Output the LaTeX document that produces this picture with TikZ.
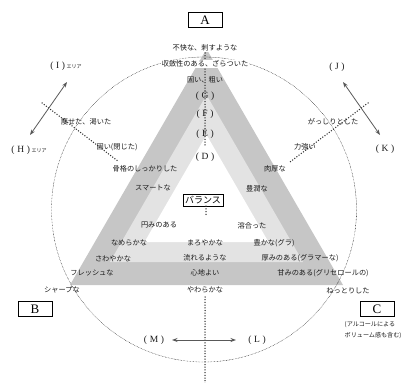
\documentclass[tikz,border=0pt]{standalone}
\usepackage{fontspec}
\setmainfont{Liberation Serif}
\newfontfamily\jp{Noto Sans CJK JP}
\usetikzlibrary{arrows.meta}
\definecolor{darkband}{HTML}{C6C6C6}
\definecolor{lightband}{HTML}{E3E3E3}
\definecolor{ink}{HTML}{1A1A1A}
\begin{document}
\begin{tikzpicture}[x=1pt,y=-1pt,
  jt/.style={font=\jp\fontsize{7.2}{8}\selectfont, inner sep=0.5pt, text=ink},
  jtw/.style={jt, fill=white},
  jsmall/.style={font=\jp\fontsize{6.1}{7.5}\selectfont, inner sep=0.5pt, text=ink, anchor=west},
  lbl/.style={font=\fontsize{9.5}{10}\selectfont, inner sep=0.5pt, text=ink},
  letterbox/.style={draw, line width=0.6pt, minimum width=34pt, minimum height=15pt, inner sep=0pt, font=\fontsize{13}{13}\selectfont},
  balbox/.style={draw, line width=0.7pt, inner sep=2pt, font=\jp\fontsize{9}{10}\selectfont},
  bigdots/.style={line width=1.5pt, dash pattern=on 0pt off 2.7pt, line cap=round, draw=black!80},
  fine/.style={line width=0.35pt, dash pattern=on 0.6pt off 0.9pt},
  dbl/.style={{Stealth[length=5.5pt,width=4pt]}-{Stealth[length=5.5pt,width=4pt]}, line width=0.8pt, draw=black!65},
]
\path[use as bounding box] (0,0) rectangle (403,382);

% bands
\fill[darkband] (206.5,49) -- (70,285) -- (343,285) -- cycle;
\fill[lightband] (206.5,94.9) -- (109.9,262) -- (303.1,262) -- cycle;
\fill[white] (206.5,134.8) -- (144.5,242) -- (268.5,242) -- cycle;

% circle
\draw[fine] (204,209.5) circle[radius=152.5pt];

% coordinates for lines
\coordinate (vt1) at (205,53);
\coordinate (vt2) at (205,145);
\coordinate (vb1) at (205,297);
\coordinate (vb2) at (205,384);
\coordinate (dl1) at (42,103);
\coordinate (dl2) at (119,162);
\coordinate (dr1) at (368,103);
\coordinate (dr2) at (290,162);
\coordinate (aI) at (67,82);
\coordinate (aH) at (30,135);
\coordinate (aJ) at (343,82);
\coordinate (aK) at (380,135);
\coordinate (aM) at (172,340);
\coordinate (aL) at (236,340);

\draw[bigdots] (vt1) -- (vt2);
\draw[bigdots] (vb1) -- (vb2);
\draw[bigdots] (dl1) -- (dl2);
\draw[bigdots] (dr1) -- (dr2);
\draw[dbl] (aI) -- (aH);
\draw[dbl] (aJ) -- (aK);
\draw[dbl] (aM) -- (aL);

% top
\node[letterbox] (A) at (205,20) {A};
\node[jtw] (t1) at (205,48) {不快な、刺すような};
\node[jtw] (t2) at (205,64) {収斂性のある、ざらついた};
\node[jt] (t3) at (205,80) {固い、粗い};
\node[lbl] (G) at (205,96) {(\;G\;)};
\node[lbl] (F) at (205,114) {(\;F\;)};
\node[lbl] (E) at (205,134) {(\;E\;)};
\node[lbl] (D) at (205,157) {(\;D\;)};

% centre
\node[balbox] (bal) at (203,200) {バランス};
\coordinate (vm) at (206,217);
\draw[bigdots] (bal.south -| vm) -- (vm);
\node[jt] (c1) at (205,243) {まろやかな};
\node[jt] (c2) at (205,258) {流れるような};
\node[jt] (c3) at (205,273) {心地よい};
\node[jt] (c4) at (205,290) {やわらかな};

% left
\node[lbl] (I) at (66,66) {(\;I\;)\,{\jp\fontsize{5}{6}\selectfont エリア}};
\node[lbl] (H) at (29,150) {(\;H\;)\,{\jp\fontsize{5}{6}\selectfont エリア}};
\node[jt] (l1) at (86,122) {痩せた、渇いた};
\node[jt] (l2) at (117,147) {固い(閉じた)};
\node[jt] (l3) at (145,169) {骨格のしっかりした};
\node[jt] (l4) at (153,188) {スマートな};
\node[jt] (l5) at (159,225) {円みのある};
\node[jt] (l6) at (129,243) {なめらかな};
\node[jt] (l7) at (113,259) {さわやかな};
\node[jt] (l8) at (92,273) {フレッシュな};
\node[jt] (l9) at (62,290) {シャープな};
\node[letterbox] (B) at (35,309) {B};
\node[lbl] (M) at (154,340) {(\;M\;)};

% right
\node[lbl] (J) at (337,67) {(\;J\;)};
\node[lbl] (K) at (385,149) {(\;K\;)};
\node[jt] (r1) at (333,122) {がっしりとした};
\node[jt] (r2) at (305,147) {力強い};
\node[jt] (r3) at (275,169) {肉厚な};
\node[jt] (r4) at (257,189) {豊潤な};
\node[jt] (r5) at (252,226) {溶合った};
\node[jt] (r6) at (274,243) {豊かな(グラ)};
\node[jt] (r7) at (300,258) {厚みのある(グラマーな)};
\node[jt] (r8) at (323,273) {甘みのある(グリセロールの)};
\node[jt] (r9) at (348,291) {ねっとりした};
\node[letterbox] (C) at (377,309) {C};
\node[jsmall] (n1) at (344,325) {(アルコールによる};
\node[jsmall] (n2) at (344,336) {ボリューム感も含む)};
\node[lbl] (L) at (257,340) {(\;L\;)};
\end{tikzpicture}
\end{document}
